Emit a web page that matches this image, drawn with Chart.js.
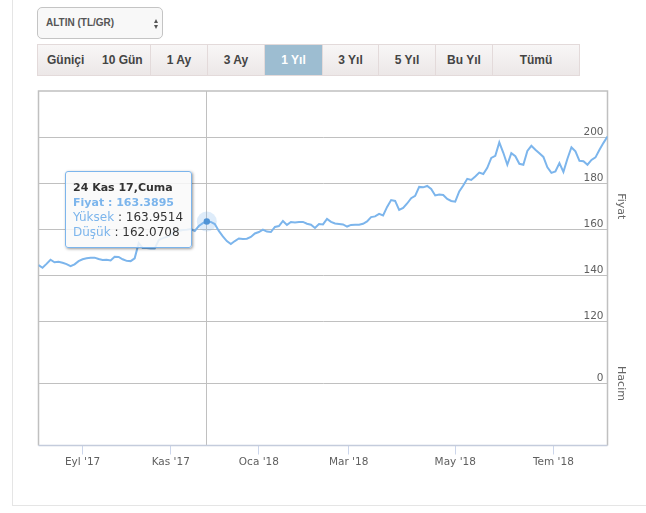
<!DOCTYPE html>
<html>
<head>
<meta charset="utf-8">
<script src="https://cdn.jsdelivr.net/npm/chart.js@4"></script>
<style>
  html, body { margin: 0; padding: 0; background: #fff; overflow: hidden; }
  body { width: 646px; height: 513px; position: relative; font-family: "Liberation Sans", sans-serif; }
  #chartCanvas { position: absolute; left: 0; top: 0; }
  .frame { position: absolute; left: 12px; top: -2px; width: 640px; height: 506px; border: 1px solid #e5e5e5; box-sizing: content-box; }
  .picker { position: absolute; left: 37px; top: 7px; width: 126px; height: 32px; box-sizing: border-box; background: #f8f8f8; border: 1px solid #c4c4c4; border-radius: 5px; color: #555; font-size: 10px; font-weight: bold; line-height: 30px; padding-left: 8px; }
  .picker i { position: absolute; left: 116px; width: 0; height: 0; border-left: 2.5px solid transparent; border-right: 2.5px solid transparent; }
  .picker .up { top: 11px; border-bottom: 4px solid #555; }
  .picker .down { top: 17px; border-top: 4px solid #555; }
  .ranges { position: absolute; left: 37px; top: 44px; height: 32px; display: flex; }
  .ranges div { box-sizing: border-box; height: 32px; line-height: 30px; text-align: center; font-size: 12px; font-weight: bold; color: #444; background: linear-gradient(#f8f6f6, #ece7e7); border: 1px solid #e3dada; border-left: 0; white-space: nowrap; position: relative; }
  .ranges div:first-child { border-left: 1px solid #e3dada; }
  .ranges div.on { background: #9dbdd1; color: #fff; }
  .ranges span { position: absolute; top: 0; }
  #tip { position: absolute; left: 65px; top: 171px; width: 127px; height: 77px; box-sizing: border-box; background: rgba(249,249,249,.85); border: 1px solid #7cb5ec; border-radius: 3px; box-shadow: 1px 1px 3px rgba(0,0,0,.4); padding: 7.5px 0 0 7px; font: 12px/15px "DejaVu Sans", sans-serif; color: #333; white-space: nowrap; }
  #tip b { font-weight: bold; font-size: 11px; }
  #tip .k { color: #7cb5ec; }
</style>
</head>
<body>
<div class="frame"></div>
<div class="picker">ALTIN (TL/GR)<i class="up"></i><i class="down"></i></div>
<div class="ranges">
  <div style="width:114px"><span style="left:9px">Güniçi</span><span style="left:64px">10 Gün</span></div>
  <div style="width:57px">1 Ay</div>
  <div style="width:57px">3 Ay</div>
  <div class="on" style="width:58px">1 Yıl</div>
  <div style="width:56px">3 Yıl</div>
  <div style="width:57px">5 Yıl</div>
  <div style="width:57px">Bu Yıl</div>
  <div style="width:87px">Tümü</div>
</div>
<canvas id="chartCanvas" width="646" height="513"></canvas>
<div id="tip"></div>

<script>
// gram altin kapanis fiyatlari
const prices = [
  144.5, 143.3, 145.0, 146.8, 145.7, 145.9, 145.5, 144.9, 144.0, 144.8,
  146.2, 147.0, 147.4, 147.7, 147.7, 147.1, 146.7, 146.8, 146.5, 148.1,
  148.0, 147.0, 146.3, 146.2, 147.4, 154.0, 151.9, 151.9, 151.7, 151.7,
  155.3, 156.2, 156.7, 157.5, 159.3, 159.3, 159.7, 159.8, 160.1, 159.3,
  161.4, 162.7, 163.3895, 163.2, 162.3, 159.3, 156.9, 154.9, 153.6, 154.9,
  156.0, 155.8, 155.9, 156.7, 158.2, 158.8, 159.9, 159.0, 158.8, 161.0,
  161.4, 163.6, 161.9, 163.2, 163.0, 163.2, 163.2, 162.4, 162.0, 160.6,
  162.3, 162.1, 164.5, 163.2, 162.5, 162.3, 162.1, 161.2, 161.9, 162.0,
  162.0, 162.4, 163.4, 165.3, 165.6, 166.7, 166.0, 169.7, 172.7, 172.3,
  168.4, 169.3, 171.2, 173.5, 174.5, 178.4, 178.2, 178.8, 177.5, 174.7,
  175.1, 174.9, 173.2, 172.3, 172.0, 176.4, 179.0, 181.9, 181.4, 182.9,
  184.6, 184.0, 186.7, 191.0, 191.9, 197.7, 193.2, 188.0, 193.0, 191.7,
  188.4, 188.0, 194.0, 196.2, 194.5, 193.0, 191.4, 186.9, 184.5, 185.1,
  188.7, 184.9, 190.6, 195.6, 193.8, 189.7, 189.5, 188.0, 190.1, 191.2,
  194.5, 197.5, 200.3
];

const monthLabels = ["Eyl '17", "Kas '17", "Oca '18", "Mar '18", "May '18", "Tem '18"];
const monthSessions = [11, 33, 55, 77.4, 104, 128.5];
const priceTicks = [120, 140, 160, 180, 200];
const volumeTicks = [0];

const activeIndex = 42;
const activeTitle = "24 Kas 17,Cuma";
const activeHigh = 163.9514;
const activeLow = 162.0708;

const LINE_COLOR = "#7cb5ec";
const GRID_COLOR = "#c0c0c0";
const AXIS_FONT = { family: "'DejaVu Sans', sans-serif", size: 10.5 };

// cerceve ve crosshair
const plotDecor = {
  id: "plotDecor",
  beforeDatasetsDraw(chart) {
    const { ctx, chartArea: a, scales } = chart;
    const px = scales.x.getPixelForValue(activeIndex);
    ctx.save();
    ctx.strokeStyle = GRID_COLOR;
    ctx.lineWidth = 1;
    ctx.beginPath();
    ctx.moveTo(Math.floor(px) + 0.5, a.top);
    ctx.lineTo(Math.floor(px) + 0.5, a.bottom);
    ctx.stroke();
    ctx.lineWidth = 1.5;
    ctx.beginPath();
    ctx.moveTo(a.left, a.bottom);
    ctx.lineTo(a.left, a.top);
    ctx.lineTo(a.right, a.top);
    ctx.lineTo(a.right, a.bottom);
    ctx.stroke();
    ctx.strokeStyle = "#c4ccdc";
    ctx.beginPath();
    ctx.moveTo(a.left, a.bottom);
    ctx.lineTo(a.right, a.bottom);
    ctx.stroke();
    ctx.restore();
  }
};

const priceChart = new Chart(document.getElementById("chartCanvas").getContext("2d"), {
  type: "line",
  data: {
    datasets: [
      {
        label: "Fiyat",
        data: prices.map((p, i) => ({ x: i, y: p })),
        yAxisID: "yPrice",
        borderColor: LINE_COLOR,
        borderWidth: 2,
        tension: 0,
        order: 1,
        pointRadius: ctx => (ctx.dataIndex === activeIndex ? 3.2 : 0),
        pointBackgroundColor: "#4f93d6",
        pointBorderWidth: 0
      },
      {
        label: "halo",
        data: [{ x: activeIndex, y: prices[activeIndex] }],
        yAxisID: "yPrice",
        showLine: false,
        order: 2,
        pointRadius: 10,
        pointBackgroundColor: "rgba(124,181,236,0.25)",
        pointBorderWidth: 0
      }
    ]
  },
  options: {
    responsive: false,
    animation: false,
    layout: { padding: { left: 38.5, top: 91 } },
    plugins: { legend: { display: false }, tooltip: { enabled: false } },
    scales: {
      x: {
        type: "linear",
        min: 0,
        max: prices.length - 1,
        afterBuildTicks: s => { s.ticks = monthSessions.map(v => ({ value: v })); },
        afterFit: s => { s.height = 67.5; },
        grid: { drawOnChartArea: false, color: "#ccd6eb", tickLength: 9 },
        border: { display: false },
        ticks: {
          autoSkip: false,
          maxRotation: 0,
          padding: 1,
          color: "#606060",
          font: AXIS_FONT,
          callback: (v, i) => monthLabels[i]
        }
      },
      yPrice: {
        position: "right",
        stack: "panes",
        stackWeight: 230.5,
        weight: 0,
        min: 120,
        max: 220,
        afterBuildTicks: s => { s.ticks = priceTicks.map(v => ({ value: v })); },
        afterFit: s => { s.width = 38.5; },
        grid: { color: GRID_COLOR, drawTicks: false },
        border: { display: false },
        title: { display: true, text: "Fiyat", color: "#666", font: { family: AXIS_FONT.family, size: 11 }, padding: { top: 19 } },
        ticks: { mirror: true, padding: -4, labelOffset: -5, color: "#606060", font: AXIS_FONT }
      },
      yVolume: {
        position: "right",
        stack: "panes",
        stackWeight: 124,
        weight: 1,
        min: -1,
        max: 1,
        afterBuildTicks: s => { s.ticks = volumeTicks.map(v => ({ value: v })); },
        afterFit: s => { s.width = 38.5; },
        grid: { color: GRID_COLOR, drawTicks: false },
        border: { display: false },
        title: { display: true, text: "Hacim", color: "#666", font: { family: AXIS_FONT.family, size: 11 }, padding: { top: 19 } },
        ticks: { mirror: true, padding: -4, labelOffset: -5, color: "#606060", font: AXIS_FONT }
      }
    }
  },
  plugins: [plotDecor]
});

document.getElementById("tip").innerHTML =
  "<b>" + activeTitle + "</b><br>" +
  '<b class="k">Fiyat : ' + prices[activeIndex].toFixed(4) + "</b><br>" +
  '<span class="k">Yüksek</span> : ' + activeHigh.toFixed(4) + "<br>" +
  '<span class="k">Düşük</span> : ' + activeLow.toFixed(4);
</script>
</body>
</html>
